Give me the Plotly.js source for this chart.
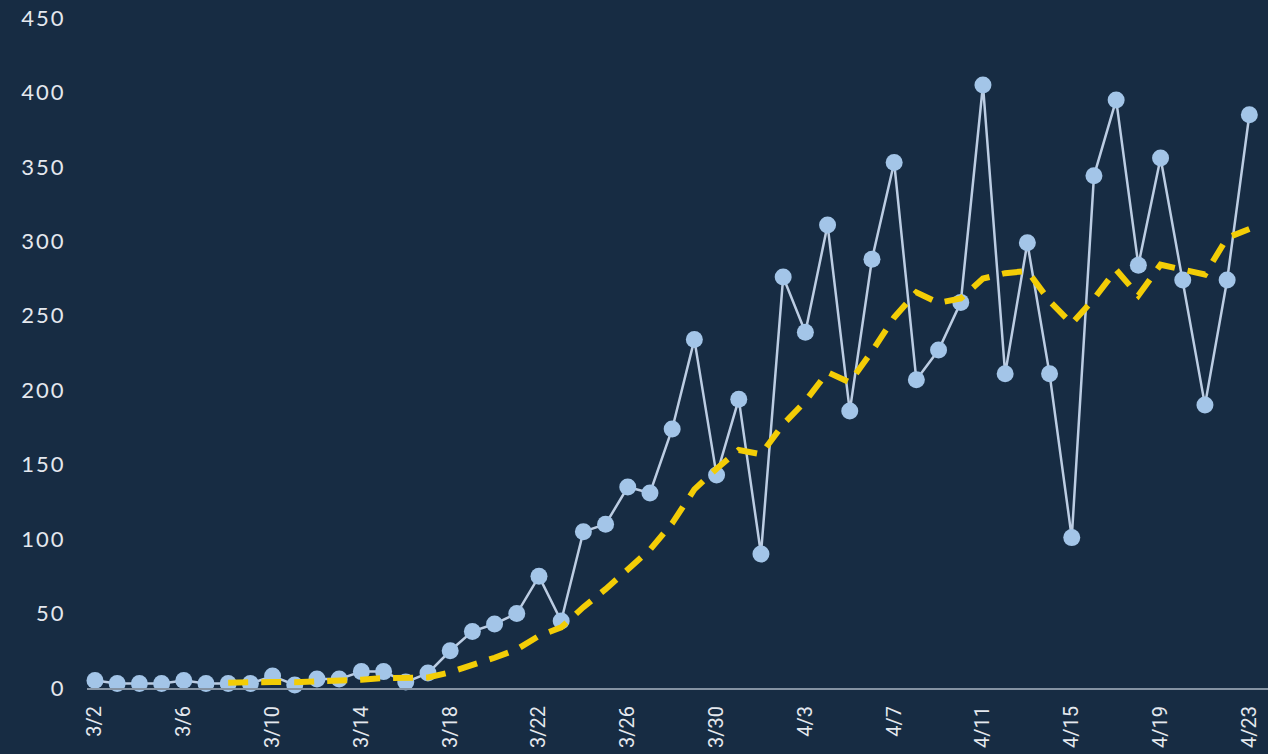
<!DOCTYPE html>
<html>
<head>
<meta charset="utf-8">
<script src="https://cdn.plot.ly/plotly-3.0.1.min.js"></script>
<style>
  html, body { margin: 0; padding: 0; background: #172c43; overflow: hidden; }
  #plot { width: 1268px; height: 754px; }
  .ytick text { letter-spacing: 2px; }
</style>
</head>
<body>
<div id="plot"></div>
<script>
// Days shown on the x axis
let days = [
  "3/2", "3/3", "3/4", "3/5", "3/6", "3/7", "3/8", "3/9", "3/10", "3/11",
  "3/12", "3/13", "3/14", "3/15", "3/16", "3/17", "3/18", "3/19", "3/20", "3/21",
  "3/22", "3/23", "3/24", "3/25", "3/26", "3/27", "3/28", "3/29", "3/30", "3/31",
  "4/1", "4/2", "4/3", "4/4", "4/5", "4/6", "4/7", "4/8", "4/9", "4/10",
  "4/11", "4/12", "4/13", "4/14", "4/15", "4/16", "4/17", "4/18", "4/19", "4/20",
  "4/21", "4/22", "4/23"
]

// Daily counts
let daily = [
  5, 3, 3, 3, 5, 3, 3, 3, 8, 2,
  6, 6, 11, 11, 4, 10, 25, 38, 43, 50,
  75, 45, 105, 110, 135, 131, 174, 234, 143, 194,
  90, 276, 239, 311, 186, 288, 353, 207, 227, 259,
  405, 211, 299, 211, 101, 344, 395, 284, 356, 274,
  190, 274, 385
]

// 7-day average (starts on 3/8)
let avgDays = days.slice(6)
let avg7 = [
  3.6, 3.3, 4.0, 3.9, 4.3, 4.4, 5.6, 6.7, 6.9, 7.1,
  10.6, 15.1, 20.3, 25.9, 35.0, 40.7, 54.3, 66.4, 80.3, 92.9,
  110.6, 133.4, 147.3, 159.9, 157.0, 177.1, 192.6, 212.1, 205.3, 226.1,
  248.9, 265.7, 258.7, 261.6, 275.0, 278.6, 280.1, 259.9, 244.7, 261.4,
  280.9, 263.6, 284.3, 280.7, 277.7, 302.4, 308.3
]

// Ticks every 4 days
let tickDays = ["3/2", "3/6", "3/10", "3/14", "3/18", "3/22", "3/26", "3/30",
  "4/3", "4/7", "4/11", "4/15", "4/19", "4/23"]

let trace1 = {
  x: days,
  y: daily,
  type: "scatter",
  mode: "lines+markers",
  line: { color: "#bccde3", width: 2.5 },
  marker: { color: "#a3c5e8", size: 17 },
  cliponaxis: false,
  hoverinfo: "x+y"
}

let trace2 = {
  x: avgDays,
  y: avg7,
  type: "scatter",
  mode: "lines",
  line: { color: "#f3cd06", width: 6, dash: "20px,13px" },
  hoverinfo: "x+y"
}

let data = [trace1, trace2]

let layout = {
  width: 1268,
  height: 754,
  paper_bgcolor: "#172c43",
  plot_bgcolor: "#172c43",
  showlegend: false,
  margin: { l: 87, r: 0, t: 18, b: 66 },
  xaxis: {
    type: "category",
    categoryorder: "array",
    categoryarray: days,
    range: [-0.36, 52.84],
    tickmode: "array",
    tickvals: tickDays,
    ticktext: tickDays,
    tickangle: -90,
    ticks: "outside",
    ticklen: 8,
    tickcolor: "rgba(0,0,0,0)",
    showgrid: false,
    zeroline: false,
    showline: true,
    linecolor: "#8593a3",
    linewidth: 2,
    tickfont: { family: "Liberation Sans Narrow, Roboto, sans-serif", size: 20, color: "#e4e8ee" }
  },
  yaxis: {
    range: [0, 450],
    tickvals: [0, 50, 100, 150, 200, 250, 300, 350, 400, 450],
    ticks: "outside",
    ticklen: 16,
    tickcolor: "rgba(0,0,0,0)",
    showgrid: false,
    zeroline: false,
    showline: false,
    tickfont: { family: "Lato, sans-serif", size: 22, color: "#e4e8ee" }
  }
}

Plotly.newPlot("plot", data, layout, { displayModeBar: false, staticPlot: true })
</script>
</body>
</html>
